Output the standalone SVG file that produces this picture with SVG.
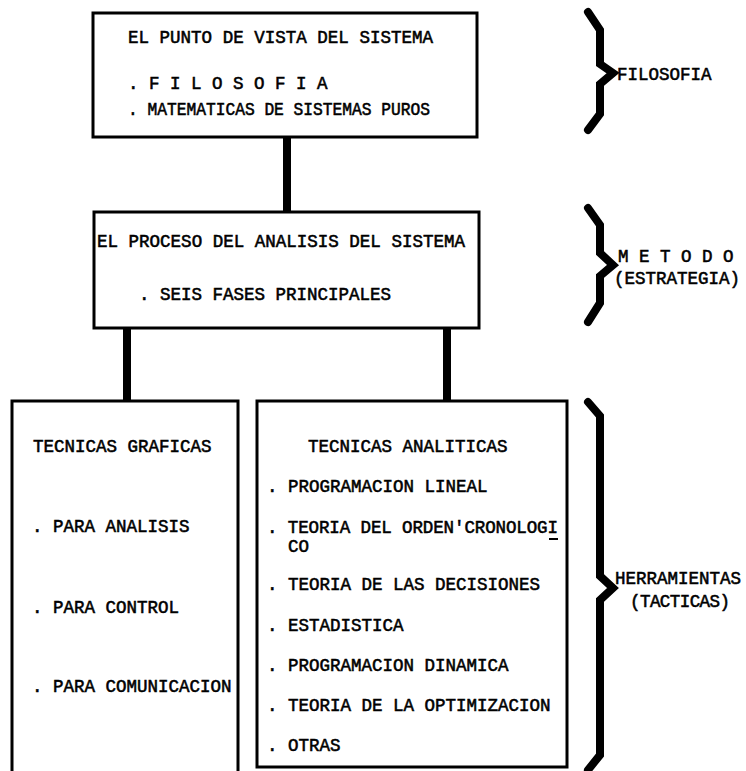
<svg xmlns="http://www.w3.org/2000/svg" width="746" height="771" viewBox="0 0 746 771">
<style>
.box{fill:none;stroke:#000;stroke-width:3}
.conn{stroke:#000;stroke-width:8;fill:none}
.br{fill:none;stroke:#000;stroke-width:8;stroke-linejoin:miter;stroke-linecap:round}
text{font-family:"Liberation Mono","DejaVu Sans Mono",monospace;font-size:17.5px;fill:#000;stroke:#000;stroke-width:0.55}
</style>
<rect width="746" height="771" fill="#fff"/>
<g id="connectors">
<line class="conn" x1="287" y1="137" x2="287" y2="212"/>
<line class="conn" x1="127" y1="328" x2="127" y2="401"/>
<line class="conn" x1="447" y1="328" x2="447" y2="401"/>
</g>
<g id="punto-de-vista">
<rect class="box" x="93" y="13" width="384" height="124"/>
<text x="128" y="43" textLength="305" lengthAdjust="spacing">EL PUNTO DE VISTA DEL SISTEMA</text>
<text x="128" y="89">. F I L O S O F I A</text>
<text x="128" y="115" textLength="302" lengthAdjust="spacingAndGlyphs">. MATEMATICAS DE SISTEMAS PUROS</text>
</g>
<g id="proceso">
<rect class="box" x="94" y="212" width="385" height="116"/>
<text x="97" y="247" textLength="368" lengthAdjust="spacing">EL PROCESO DEL ANALISIS DEL SISTEMA</text>
<text x="139" y="300">. SEIS FASES PRINCIPALES</text>
</g>
<g id="tecnicas-graficas">
<path class="box" d="M12,775 V401 H238 V775"/>
<text x="33" y="452">TECNICAS GRAFICAS</text>
<text x="32" y="532">. PARA ANALISIS</text>
<text x="32" y="613">. PARA CONTROL</text>
<text x="32" y="692">. PARA COMUNICACION</text>
</g>
<g id="tecnicas-analiticas">
<rect class="box" x="257" y="401" width="310" height="366" stroke-width="2.5"/>
<text x="308" y="452">TECNICAS ANALITICAS</text>
<text x="267" y="492">. PROGRAMACION LINEAL</text>
<text x="267" y="533" textLength="291" lengthAdjust="spacing">. TEORIA DEL ORDEN'CRONOLOGI</text>
<line x1="549" y1="539" x2="558" y2="539" stroke="#000" stroke-width="2"/>
<text x="288" y="552">CO</text>
<text x="267" y="590">. TEORIA DE LAS DECISIONES</text>
<text x="267" y="631">. ESTADISTICA</text>
<text x="267" y="671">. PROGRAMACION DINAMICA</text>
<text x="267" y="711">. TEORIA DE LA OPTIMIZACION</text>
<text x="267" y="751">. OTRAS</text>
</g>
<g id="filosofia">
<polyline class="br" points="588,12 600,30 600,64 613,73 600,84 600,114 588,130"/>
<text x="617" y="80">FILOSOFIA</text>
</g>
<g id="metodo">
<polyline class="br" points="588,208 600,225 600,253 613,265 600,276 600,303 588,322"/>
<text x="618" y="262">M E T O D O</text>
<text x="614" y="284">(ESTRATEGIA)</text>
</g>
<g id="herramientas">
<polyline class="br" points="588,402 600,416 600,576 613,588 600,600 600,755 588,770"/>
<text x="615" y="584">HERRAMIENTAS</text>
<text x="630" y="607" textLength="100" lengthAdjust="spacing">(TACTICAS)</text>
</g>
</svg>
